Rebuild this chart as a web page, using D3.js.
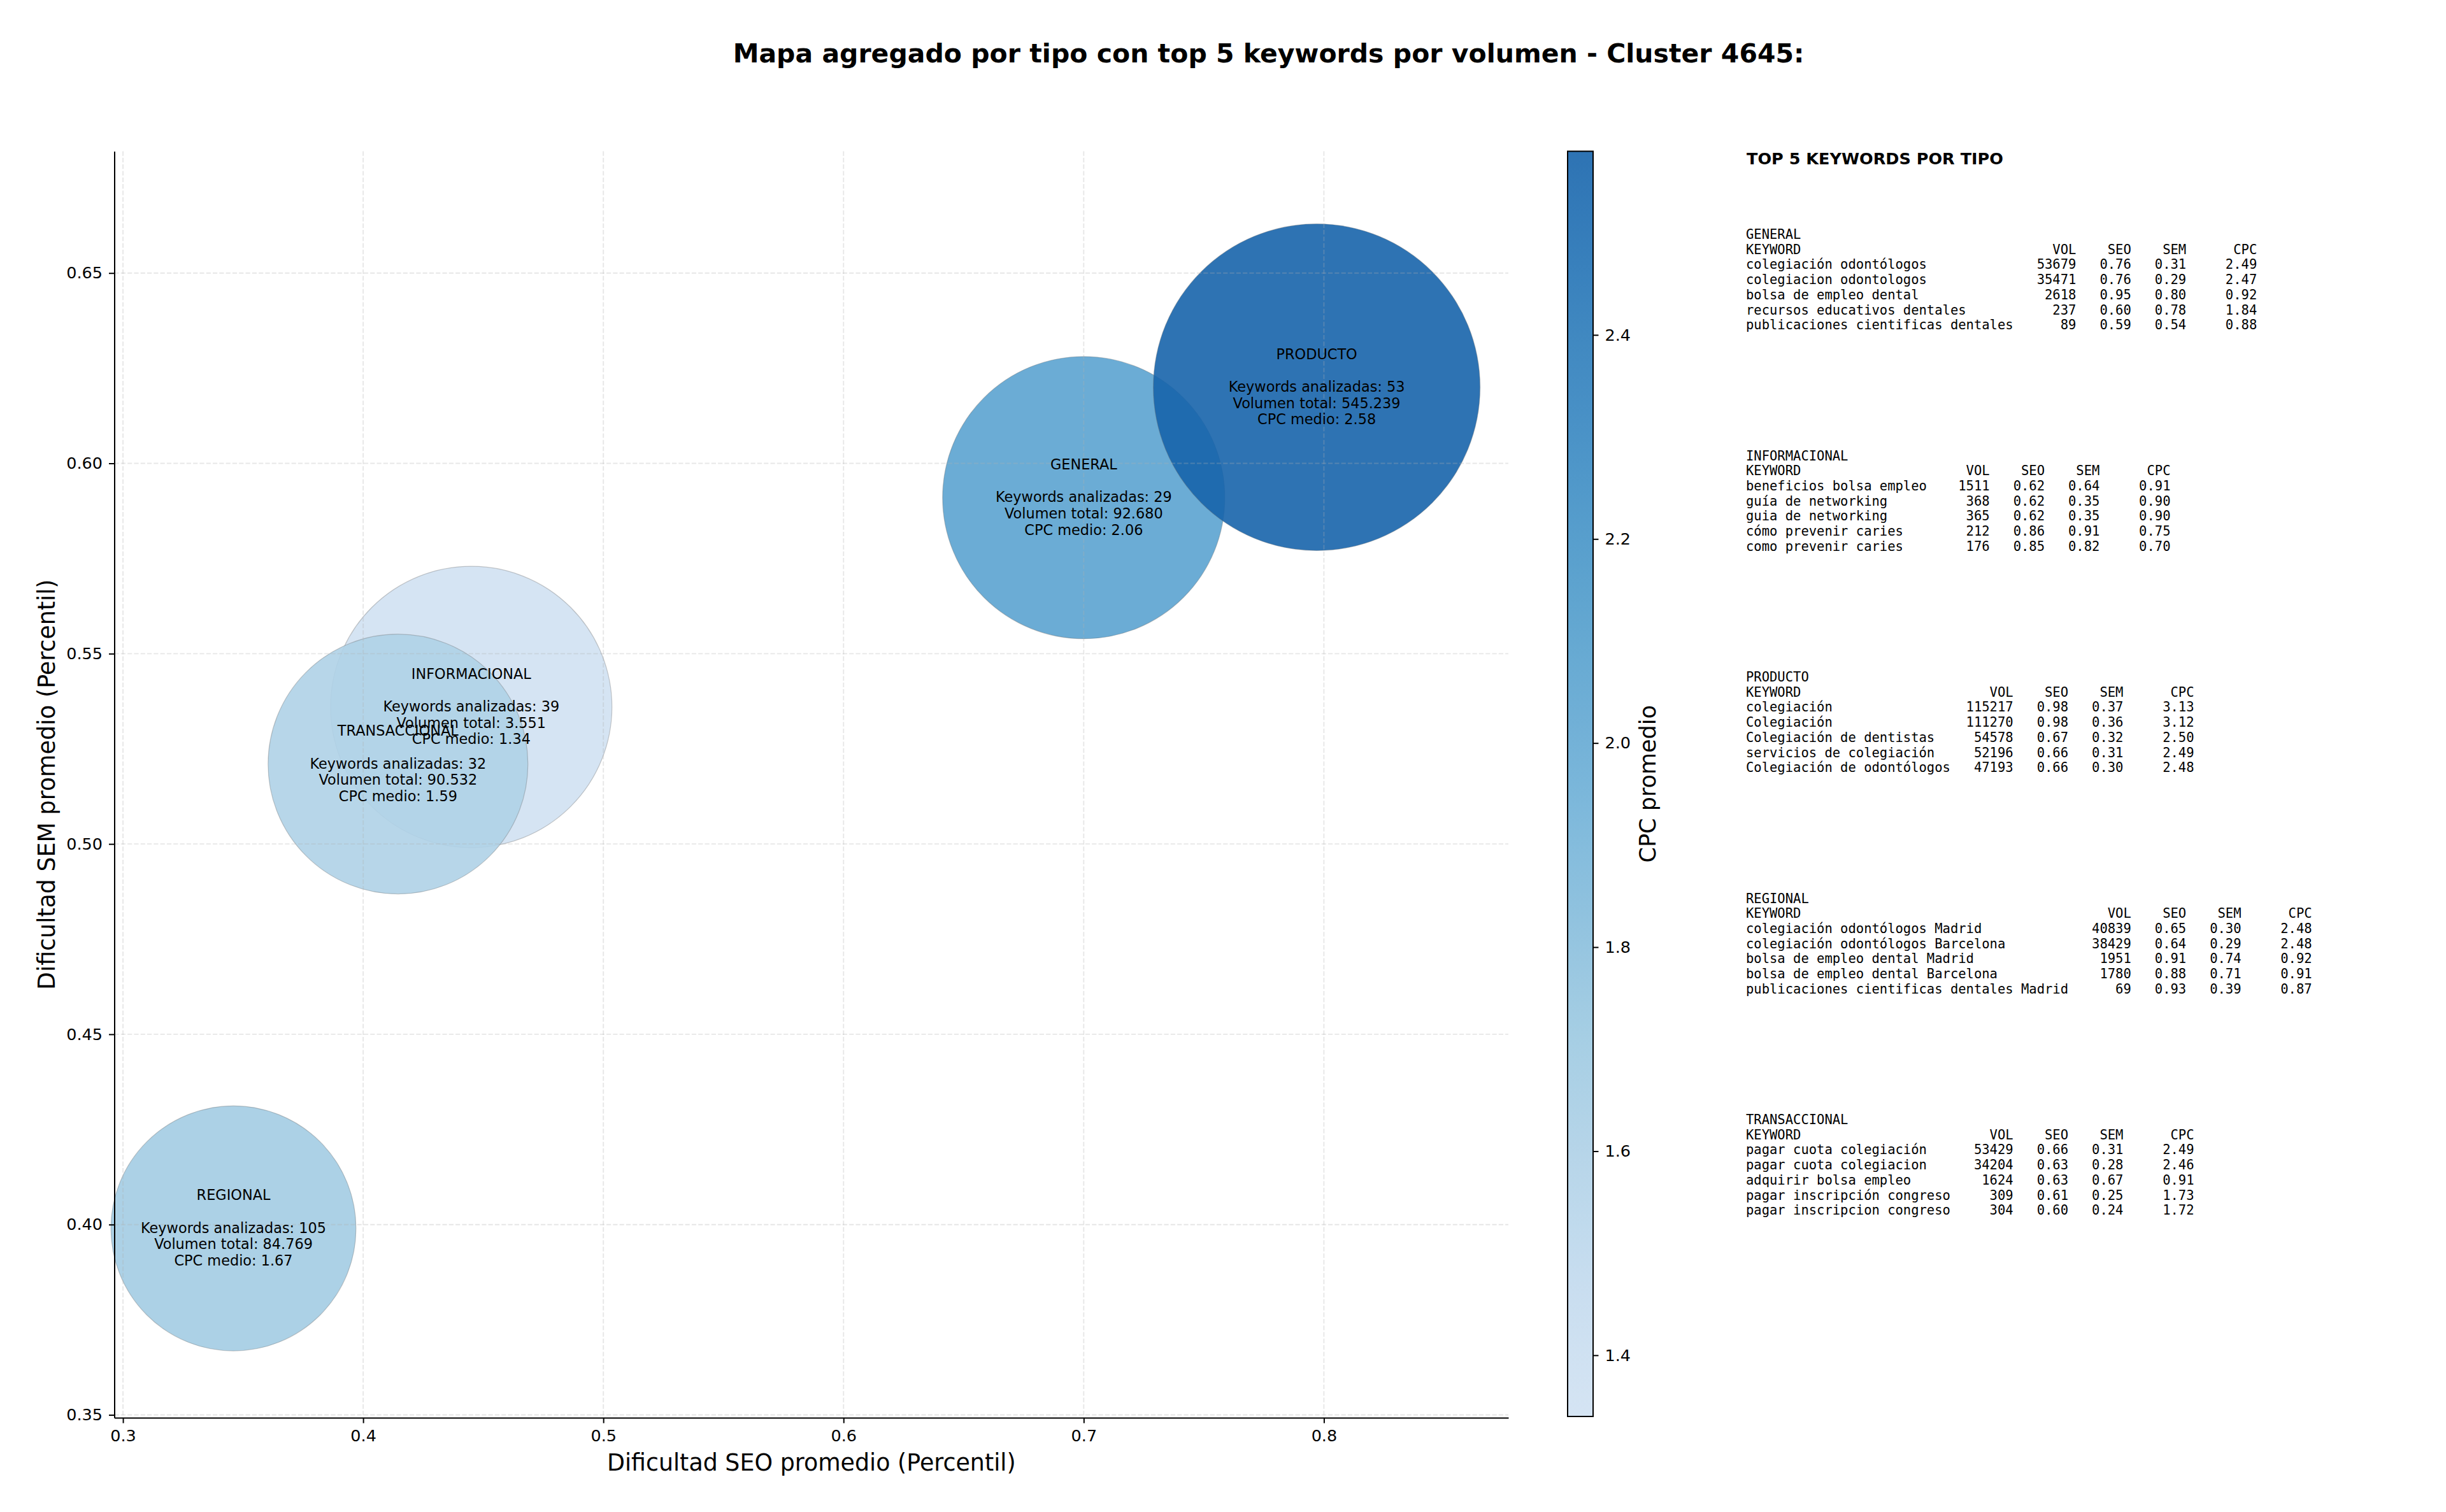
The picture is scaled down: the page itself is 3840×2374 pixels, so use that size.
<!DOCTYPE html>
<meta charset="utf-8">
<style>
body { margin: 0; background: #fff; }
svg { display: block; font-family: "DejaVu Sans", sans-serif; }
.grid line { stroke: #b0b0b0; stroke-opacity: 0.3; stroke-width: 1.9px; stroke-dasharray: 7.2,3.1; }
.axis path, .axis line { stroke: #000; stroke-width: 2px; }
.axis text { font-family: "DejaVu Sans", sans-serif; font-size: 25.5px; fill: #000; }
.burbuja { stroke: #6b6b6b; stroke-opacity: 0.35; stroke-width: 1.2px; }
.etiqueta { font-size: 22.4px; fill: #000; }
.tabla text { font-family: "DejaVu Sans Mono", monospace; font-size: 20.5px; fill: #000; white-space: pre; }
</style>
<svg width="3840" height="2374"></svg>
<script src="https://d3js.org/d3.v7.min.js"></script>
<script>
// datos agregados por tipo (orden de dibujo)
var tipos        = ["GENERAL", "INFORMACIONAL", "PRODUCTO", "REGIONAL", "TRANSACCIONAL"];
var seoMedio     = [0.700, 0.445, 0.797, 0.346, 0.4145];
var semMedio     = [0.591, 0.536, 0.620, 0.399, 0.521];
var cpcMedio     = [2.06, 1.34, 2.58, 1.67, 1.59];
var numKeywords  = [29, 39, 53, 105, 32];
var volumenTotal = [92680, 3551, 545239, 84769, 90532];
var tamano       = [491, 488, 658, 370, 416];   // area relativa de la burbuja

var xTicks  = [0.3, 0.4, 0.5, 0.6, 0.7, 0.8];
var yTicks  = [0.35, 0.40, 0.45, 0.50, 0.55, 0.60, 0.65];
var cbTicks = [1.4, 1.6, 1.8, 2.0, 2.2, 2.4];

// top 5 keywords: [keyword, vol, seo, sem, cpc]
var topGeneral = [
  ["colegiación odontólogos", 53679, 0.76, 0.31, 2.49],
  ["colegiacion odontologos", 35471, 0.76, 0.29, 2.47],
  ["bolsa de empleo dental", 2618, 0.95, 0.80, 0.92],
  ["recursos educativos dentales", 237, 0.60, 0.78, 1.84],
  ["publicaciones cientificas dentales", 89, 0.59, 0.54, 0.88]
];
var topInformacional = [
  ["beneficios bolsa empleo", 1511, 0.62, 0.64, 0.91],
  ["guía de networking", 368, 0.62, 0.35, 0.90],
  ["guia de networking", 365, 0.62, 0.35, 0.90],
  ["cómo prevenir caries", 212, 0.86, 0.91, 0.75],
  ["como prevenir caries", 176, 0.85, 0.82, 0.70]
];
var topProducto = [
  ["colegiación", 115217, 0.98, 0.37, 3.13],
  ["Colegiación", 111270, 0.98, 0.36, 3.12],
  ["Colegiación de dentistas", 54578, 0.67, 0.32, 2.50],
  ["servicios de colegiación", 52196, 0.66, 0.31, 2.49],
  ["Colegiación de odontólogos", 47193, 0.66, 0.30, 2.48]
];
var topRegional = [
  ["colegiación odontólogos Madrid", 40839, 0.65, 0.30, 2.48],
  ["colegiación odontólogos Barcelona", 38429, 0.64, 0.29, 2.48],
  ["bolsa de empleo dental Madrid", 1951, 0.91, 0.74, 0.92],
  ["bolsa de empleo dental Barcelona", 1780, 0.88, 0.71, 0.91],
  ["publicaciones cientificas dentales Madrid", 69, 0.93, 0.39, 0.87]
];
var topTransaccional = [
  ["pagar cuota colegiación", 53429, 0.66, 0.31, 2.49],
  ["pagar cuota colegiacion", 34204, 0.63, 0.28, 2.46],
  ["adquirir bolsa empleo", 1624, 0.63, 0.67, 0.91],
  ["pagar inscripción congreso", 309, 0.61, 0.25, 1.73],
  ["pagar inscripcion congreso", 304, 0.60, 0.24, 1.72]
];
var topPorTipo = [topGeneral, topInformacional, topProducto, topRegional, topTransaccional];

var svg = d3.select("svg");
svg.append("rect").attr("width", 3840).attr("height", 2374).attr("fill", "#fff");

var margin = {top: 237.5, left: 179.5},
    width = 2368 - margin.left,
    height = 2226 - margin.top,
    g = svg.append("g").attr("transform", "translate(" + margin.left + "," + margin.top + ")");

var x = d3.scaleLinear().domain([0.2964, 0.8768]).range([0, width]),
    y = d3.scaleLinear().domain([0.34925, 0.682]).range([height, 0]),
    r = d3.scaleSqrt().domain([0, d3.max(tamano)]).range([0, 256.5]);

// Blues de matplotlib (lineal entre los 9 colores), recortado a 0.2-0.8
var blues = d3.piecewise(d3.interpolateRgb, ["#f7fbff","#deebf7","#c6dbef","#9ecae1","#6baed6","#4292c6","#2171b5","#08519c","#08306b"]);
var color = d3.scaleSequential(function(t) { return blues(0.2 + 0.6 * t); }).domain(d3.extent(cpcMedio));

var fmtVol = d3.formatLocale({decimal: ",", thousands: ".", grouping: [3], currency: ["", ""]}).format(",d");

var datos = tipos.map(function(t, i) {
  return {tipo: t, seo: seoMedio[i], sem: semMedio[i], cpc: cpcMedio[i],
          n: numKeywords[i], vol: volumenTotal[i], s: tamano[i]};
});

// burbujas
g.selectAll(".burbuja")
  .data(datos)
  .enter().append("circle")
    .attr("class", "burbuja")
    .attr("cx", function(d) { return x(d.seo); })
    .attr("cy", function(d) { return y(d.sem); })
    .attr("r", function(d) { return r(d.s); })
    .attr("fill", function(d) { return color(d.cpc); })
    .attr("fill-opacity", 0.9);

// rejilla (encima de las burbujas, como en matplotlib)
var grid = g.append("g").attr("class", "grid");
grid.selectAll(".gx").data(xTicks).enter().append("line")
    .attr("x1", function(d) { return x(d); }).attr("x2", function(d) { return x(d); })
    .attr("y1", 0).attr("y2", height);
grid.selectAll(".gy").data(yTicks).enter().append("line")
    .attr("y1", function(d) { return y(d); }).attr("y2", function(d) { return y(d); })
    .attr("x1", 0).attr("x2", width);

// ejes
g.append("g")
    .attr("class", "axis axis--x")
    .attr("transform", "translate(0," + height + ")")
    .call(d3.axisBottom(x).tickValues(xTicks).tickFormat(d3.format(".1f")).tickSize(8.5).tickSizeOuter(0).tickPadding(10));

g.append("g")
    .attr("class", "axis axis--y")
    .call(d3.axisLeft(y).tickValues(yTicks).tickFormat(d3.format(".2f")).tickSize(8.5).tickSizeOuter(0).tickPadding(10));

g.selectAll(".axis").attr("font-family", null).attr("font-size", null);

// etiquetas de las burbujas
var lh = 25.7;
var etq = g.selectAll(".etiqueta")
  .data(datos)
  .enter().append("text")
    .attr("class", "etiqueta")
    .attr("text-anchor", "middle");
etq.each(function(d) {
  var lineas = [d.tipo, "", "Keywords analizadas: " + d.n, "Volumen total: " + fmtVol(d.vol), "CPC medio: " + d.cpc.toFixed(2)];
  var t = d3.select(this);
  lineas.forEach(function(l, i) {
    if (!l) return;
    t.append("tspan")
      .attr("x", x(d.seo))
      .attr("y", y(d.sem) + (i - 2) * lh + 7)
      .text(l);
  });
});

// titulos de ejes
svg.append("text")
    .attr("x", (margin.left + 2368) / 2)
    .attr("y", 2309)
    .attr("text-anchor", "middle")
    .style("font-size", "36.4px")
    .text("Dificultad SEO promedio (Percentil)");

svg.append("text")
    .attr("transform", "translate(86," + (margin.top + height / 2) + ") rotate(-90)")
    .attr("text-anchor", "middle")
    .style("font-size", "36.4px")
    .text("Dificultad SEM promedio (Percentil)");

svg.append("text")
    .attr("x", 1991.5)
    .attr("y", 98)
    .attr("text-anchor", "middle")
    .style("font-size", "41px")
    .style("font-weight", "bold")
    .text("Mapa agregado por tipo con top 5 keywords por volumen - Cluster 4645:");

// barra de color
var cbX = 2461, cbW = 40, cbTop = 237.5, cbH = 2224 - 237.5;
var yc = d3.scaleLinear().domain(d3.extent(cpcMedio)).range([cbH, 0]);
var grad = svg.append("defs").append("linearGradient")
    .attr("id", "cbgrad").attr("x1", 0).attr("y1", 1).attr("x2", 0).attr("y2", 0);
d3.range(0, 1.0001, 0.05).forEach(function(t) {
  grad.append("stop").attr("offset", t).attr("stop-color", blues(0.2 + 0.6 * t));
});
var cb = svg.append("g").attr("transform", "translate(" + cbX + "," + cbTop + ")");
cb.append("rect").attr("width", cbW).attr("height", cbH)
    .attr("fill", "url(#cbgrad)").attr("fill-opacity", 0.9);
cb.append("rect").attr("width", cbW).attr("height", cbH)
    .attr("fill", "none").attr("stroke", "#000").attr("stroke-width", 2);
cb.append("g")
    .attr("class", "axis")
    .attr("transform", "translate(" + cbW + ",0)")
    .call(d3.axisRight(yc).tickValues(cbTicks).tickFormat(d3.format(".1f")).tickSize(8.5).tickPadding(10))
    .attr("font-family", null).attr("font-size", null)
    .select(".domain").remove();

svg.append("text")
    .attr("transform", "translate(2599," + (cbTop + cbH / 2) + ") rotate(-90)")
    .attr("text-anchor", "middle")
    .style("font-size", "35px")
    .text("CPC promedio");

// panel de texto: top 5 keywords por tipo
svg.append("text")
    .attr("x", 2742)
    .attr("y", 258)
    .style("font-size", "25.5px")
    .style("font-weight", "bold")
    .text("TOP 5 KEYWORDS POR TIPO");

var tabla = svg.append("g").attr("class", "tabla");
tipos.forEach(function(t, i) {
  var filas = topPorTipo[i];
  var ancho = d3.max(filas, function(f) { return f[0].length; });
  var lineas = [t,
    "KEYWORD".padEnd(ancho) + "VOL".padStart(8) + "SEO".padStart(7) + "SEM".padStart(7) + "CPC".padStart(9)];
  filas.forEach(function(f) {
    lineas.push(f[0].padEnd(ancho) + String(f[1]).padStart(8) + f[2].toFixed(2).padStart(7) +
                f[3].toFixed(2).padStart(7) + f[4].toFixed(2).padStart(9));
  });
  var y0 = 375 + 347.5 * i;
  lineas.forEach(function(l, k) {
    tabla.append("text")
      .attr("x", 2741)
      .attr("y", y0 + k * 23.7)
      .attr("xml:space", "preserve")
      .text(l);
  });
});
</script>
